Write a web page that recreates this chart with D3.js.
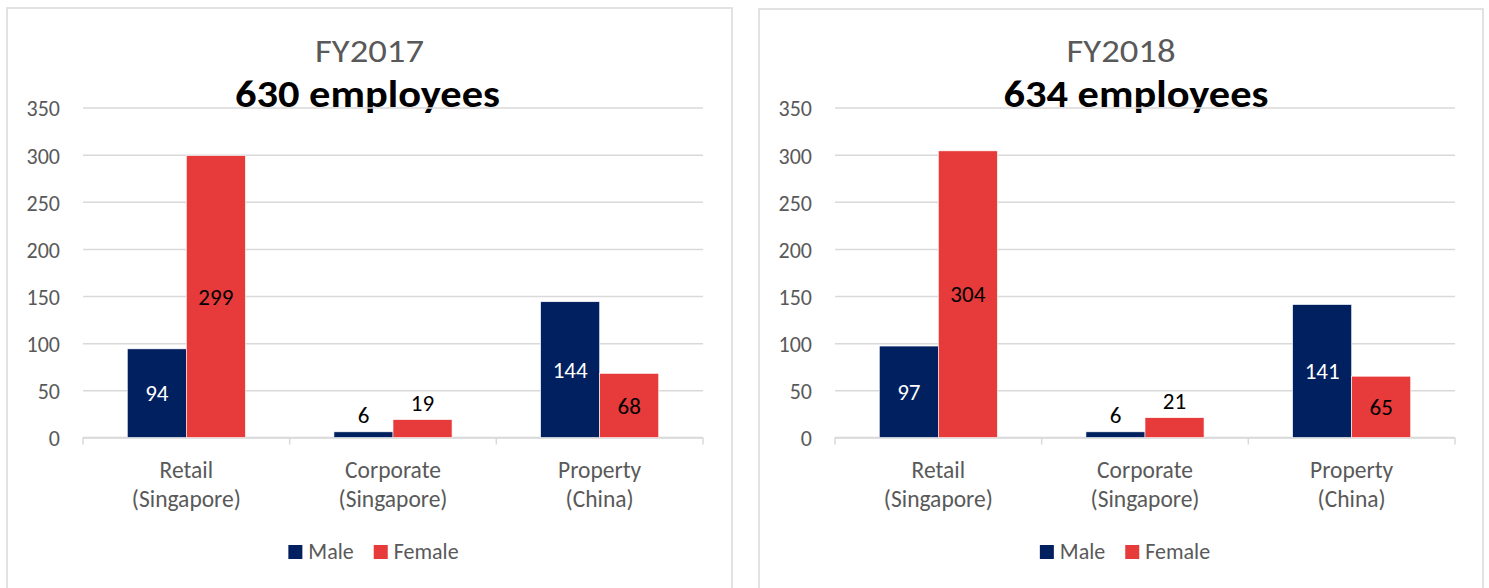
<!DOCTYPE html>
<html>
<head>
<meta charset="utf-8">
<script src="https://cdn.jsdelivr.net/npm/d3@7/dist/d3.min.js"></script>
<style>
  html, body { margin: 0; padding: 0; background: #ffffff; }
  svg { display: block; font-family: Carlito, Calibri, Lato, "Open Sans", sans-serif; }
</style>
</head>
<body>
<svg id="chart" width="1489" height="588"></svg>
<script>
// Employee headcount by business segment and gender
const categories = ["Retail\n(Singapore)", "Corporate\n(Singapore)", "Property\n(China)"];
const seriesNames = ["Male", "Female"];
const years = ["FY2017", "FY2018"];
const totals = [630, 634];
const male2017 = [94, 6, 144];
const female2017 = [299, 19, 68];
const male2018 = [97, 6, 141];
const female2018 = [304, 21, 65];
const yTicks = [0, 50, 100, 150, 200, 250, 300, 350];

const colors = { Male: "#002060", Female: "#E63A3B" };
const labelColors = { Male: "#ffffff", Female: "#000000" };
const FONT = "Carlito, Calibri, Lato, 'Open Sans', sans-serif";

const panels = [
  { year: years[0], total: totals[0], values: [male2017, female2017],
    box: [7, 8, 725], plot: [83, 703], subOffset: -2, legendOffset: 4 },
  { year: years[1], total: totals[1], values: [male2018, female2018],
    box: [759, 9, 724], plot: [835, 1455], subOffset: 15, legendOffset: 4 }
];

const svg = d3.select("#chart");
const yTop = 107.5, yBottom = 437.5;

panels.forEach(p => {
  const g = svg.append("g");
  const [bx, by, bw] = p.box;
  const cx = bx + bw / 2;

  // panel frame
  g.append("rect")
    .attr("x", bx).attr("y", by).attr("width", bw).attr("height", 640)
    .attr("fill", "#ffffff").attr("stroke", "#D9D9D9").attr("stroke-width", 1.5);

  // titles (widened to the chart's Calibri-like proportions)
  g.append("text")
    .attr("x", cx).attr("y", 62)
    .attr("text-anchor", "middle")
    .attr("fill", "#595959")
    .attr("font-size", 33)
    .attr("textLength", 109).attr("lengthAdjust", "spacingAndGlyphs")
    .text(p.year);
  g.append("text")
    .attr("x", cx + p.subOffset).attr("y", 107)
    .attr("text-anchor", "middle")
    .attr("fill", "#000000")
    .attr("font-weight", "bold")
    .attr("font-size", 38)
    .attr("textLength", 265).attr("lengthAdjust", "spacingAndGlyphs")
    .text(p.total + " employees");

  const x = d3.scaleBand().domain(categories).range(p.plot).paddingInner(0).paddingOuter(0);
  const groupPad = 1.5 / 3.5;
  const x1 = d3.scaleBand().domain(seriesNames)
    .range([x.bandwidth() * groupPad / 2, x.bandwidth() * (1 - groupPad / 2)]);
  const y = d3.scaleLinear().domain([0, 350]).range([yBottom, yTop]);

  // gridlines + y tick labels
  const yAxis = g.append("g")
    .attr("transform", `translate(${p.plot[0]},0)`)
    .call(d3.axisLeft(y).tickValues(yTicks).tickSize(-(p.plot[1] - p.plot[0])).tickPadding(23))
    .attr("font-family", FONT).attr("font-size", 22);
  yAxis.select(".domain").remove();
  yAxis.selectAll(".tick line").attr("stroke", "#D9D9D9").attr("stroke-width", 1.5);
  yAxis.selectAll(".tick text")
    .attr("fill", "#595959").attr("dy", "0.38em");

  // category axis: baseline, boundary ticks and labels
  const xAxis = g.append("g")
    .attr("transform", `translate(0,${yBottom})`)
    .call(d3.axisBottom(x).tickSize(0).tickPadding(0))
    .attr("font-family", FONT).attr("font-size", 23.5);
  xAxis.select(".domain").remove();
  xAxis.selectAll(".tick text").remove();
  const edges = categories.map(c => x(c)).concat([p.plot[1]]);
  xAxis.append("line")
    .attr("x1", p.plot[0]).attr("x2", p.plot[1])
    .attr("stroke", "#D9D9D9").attr("stroke-width", 1.5);
  xAxis.selectAll(".edge").data(edges).join("line")
    .attr("class", "edge")
    .attr("x1", d => d).attr("x2", d => d)
    .attr("y1", 0).attr("y2", 7)
    .attr("stroke", "#D9D9D9").attr("stroke-width", 1.5);
  xAxis.selectAll(".tick").each(function(d) {
    const t = d3.select(this).append("text")
      .attr("fill", "#595959")
      .attr("text-anchor", "middle");
    d.split("\n").forEach((line, i) => {
      t.append("tspan").attr("x", 0).attr("y", 40 + i * 29).text(line);
    });
  });

  // bars
  const rows = [];
  categories.forEach((c, ci) => {
    seriesNames.forEach((s, si) => {
      rows.push({ cat: c, series: s, value: p.values[si][ci] });
    });
  });
  g.selectAll(".bar").data(rows).join("rect")
    .attr("class", "bar")
    .attr("x", d => x(d.cat) + x1(d.series))
    .attr("y", d => y(d.value))
    .attr("width", x1.bandwidth())
    .attr("height", d => yBottom - y(d.value))
    .attr("fill", d => colors[d.series])
    .attr("stroke", "#ffffff").attr("stroke-width", 0.6);

  // value labels: centred inside tall bars, above short ones
  g.selectAll(".val").data(rows).join("text")
    .attr("class", "val")
    .attr("x", d => x(d.cat) + x1(d.series) + x1.bandwidth() / 2)
    .attr("y", d => {
      const h = yBottom - y(d.value);
      return h > 30 ? (y(d.value) + yBottom) / 2 : y(d.value) - 17;
    })
    .attr("dy", "0.36em")
    .attr("text-anchor", "middle")
    .attr("font-size", 23)
    .attr("fill", d => (yBottom - y(d.value)) > 30 ? labelColors[d.series] : "#000000")
    .text(d => d.value);

  // legend
  const lg = g.append("g");
  const items = lg.selectAll("g").data(seriesNames).join("g");
  items.append("rect")
    .attr("width", 14).attr("height", 14).attr("y", -14)
    .attr("fill", d => colors[d]);
  items.append("text")
    .attr("x", 20).attr("y", 0)
    .attr("font-size", 22).attr("fill", "#595959")
    .text(d => d);
  let off = 0;
  items.each(function() {
    d3.select(this).attr("transform", `translate(${off},0)`);
    off += this.getBBox().width + 20;
  });
  const legendW = off - 20;
  lg.attr("transform", `translate(${cx + p.legendOffset - legendW / 2},559)`);
});
</script>
</body>
</html>
